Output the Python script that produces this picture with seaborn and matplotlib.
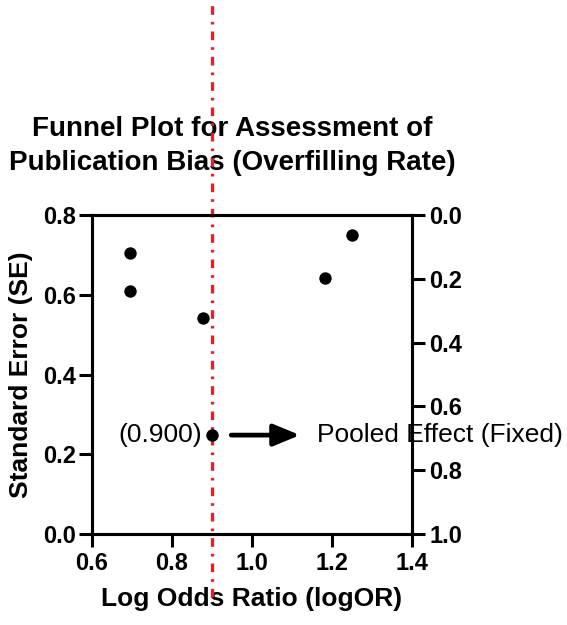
import matplotlib
matplotlib.use("Agg")
import matplotlib.pyplot as plt
import matplotlib.transforms as mtransforms
import seaborn as sns
import pandas as pd

# Data
log_or = [0.695, 0.695, 0.877, 1.183, 1.250]
std_err = [0.705, 0.610, 0.542, 0.642, 0.750]
pooled_effect = 0.900
pooled_se = 0.248
x_ticks = [0.6, 0.8, 1.0, 1.2, 1.4]
y_ticks = [0.0, 0.2, 0.4, 0.6, 0.8]
y2_ticks = [0.0, 0.2, 0.4, 0.6, 0.8, 1.0]

sns.set_style("ticks")
plt.rcParams['font.family'] = ['Liberation Sans', 'DejaVu Sans']
plt.rcParams['text.color'] = 'black'
plt.rcParams['axes.labelcolor'] = 'black'
plt.rcParams['xtick.color'] = 'black'
plt.rcParams['ytick.color'] = 'black'

df = pd.DataFrame({"logOR": log_or + [pooled_effect], "SE": std_err + [pooled_se]})

fig = plt.figure(figsize=(5.67, 6.25), dpi=100)
ax = fig.add_axes([92/567, 1-534/625, 320/567, 319/625])

sns.scatterplot(data=df, x="logOR", y="SE", ax=ax, color="black", s=80,
                edgecolor="black", linewidth=0, zorder=5, clip_on=False)

ax.set_xlim(0.6, 1.4)
ax.set_ylim(0.0, 0.8)
ax.set_xticks(x_ticks)
ax.set_yticks(y_ticks)
ax.set_xticklabels([f"{v:.1f}" for v in x_ticks])
ax.set_yticklabels([f"{v:.1f}" for v in y_ticks])

lw = 2.2
for sp in ax.spines.values():
    sp.set_visible(True)
    sp.set_linewidth(lw)
    sp.set_color("black")
ax.tick_params(axis="both", direction="out", length=9.5, width=lw, colors="black",
               labelsize=17, pad=2)
ax.tick_params(axis="x", pad=3.5)
for lab in ax.get_xticklabels() + ax.get_yticklabels():
    lab.set_fontweight("bold")

ax.set_xlabel("Log Odds Ratio (logOR)", fontsize=19, fontweight="bold", color="black")
ax.set_ylabel("Standard Error (SE)", fontsize=19, fontweight="bold", color="black")
ax.xaxis.set_label_coords(0.5, -0.165)
ax.yaxis.set_label_coords(-0.185, 0.5)

ax2 = ax.twinx()
ax2.set_ylim(1.0, 0.0)
ax2.set_yticks(y2_ticks)
ax2.set_yticklabels([f"{v:.1f}" for v in y2_ticks])
for sp in ax2.spines.values():
    sp.set_linewidth(lw)
    sp.set_color("black")
ax2.tick_params(axis="y", direction="out", length=9.5, width=lw, labelsize=17, pad=3,
                colors="black")
for lab in ax2.get_yticklabels():
    lab.set_fontweight("bold")

# Pooled effect reference line, extends beyond the axes
trans = mtransforms.blended_transform_factory(ax.transData, ax.transAxes)
ax.plot([pooled_effect, pooled_effect], [-0.197, 1.68], transform=trans,
        color="#ee1c24", linestyle=(0, (2.6, 2.1, 0.8, 2.1)), linewidth=2.4,
        clip_on=False, zorder=4)

# Annotations
ax.text(0.875, pooled_se, f"({pooled_effect:.3f})", ha="right", va="center",
        fontsize=19, color="black", zorder=6)
ax.annotate("", xy=(1.12, pooled_se), xytext=(0.948, pooled_se),
            arrowprops=dict(arrowstyle="-|>,head_length=0.8,head_width=0.33",
                            mutation_scale=20, color="black", lw=3.4,
                            shrinkA=0, shrinkB=0),
            annotation_clip=False, zorder=6)
ax.text(1.1625, pooled_se, "Pooled Effect (Fixed)", ha="left", va="center",
        fontsize=19, color="black", zorder=6, clip_on=False)

fig.text(232/567, 1-146/625,
         "Funnel Plot for Assessment of\nPublication Bias (Overfilling Rate)",
         ha="center", va="center", fontsize=20, fontweight="bold", linespacing=1.35,
         color="black", zorder=-1)

fig.savefig("out.png", dpi=100)
